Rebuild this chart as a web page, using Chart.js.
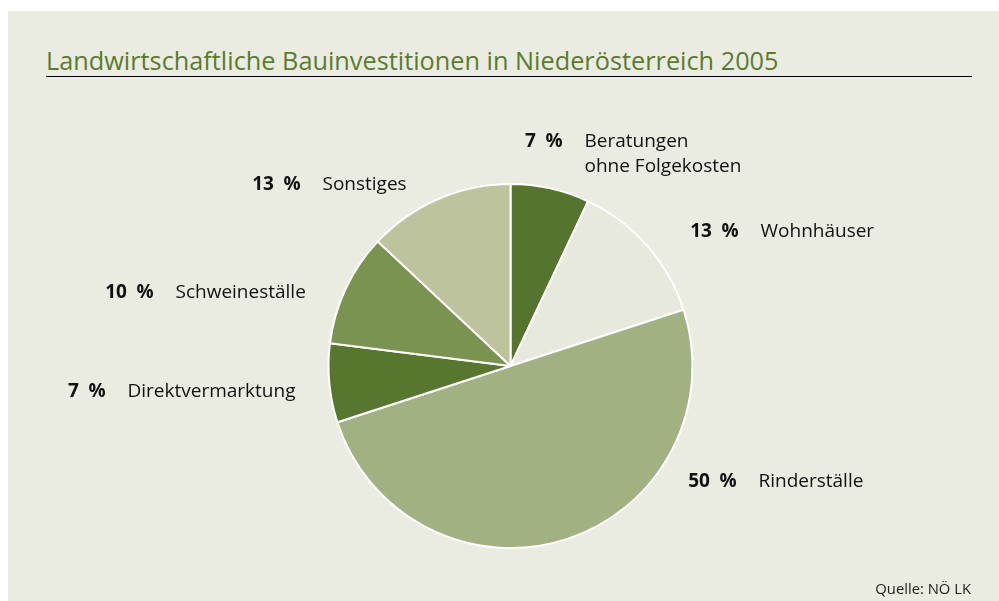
<!DOCTYPE html>
<html lang="de">
<head>
<meta charset="utf-8">
<title>Landwirtschaftliche Bauinvestitionen in Niederösterreich 2005</title>
<script src="https://cdn.jsdelivr.net/npm/chart.js@4.4.1/dist/chart.umd.min.js"></script>
<style>
  html, body { margin: 0; padding: 0; background: #fff; }
  #panel { position: absolute; left: 8px; top: 11px; width: 991px; height: 590px; background: #ebece1; }
  #title { position: absolute; left: 46px; top: 48px; font: 25.3px/25px "Open Sans", sans-serif; color: #5b7b2e; white-space: nowrap; }
  #rule { position: absolute; left: 46px; top: 76px; width: 926px; border-top: 1px solid #000; }
  #source { position: absolute; right: 28px; top: 581px; font: 14.8px/14.8px "Open Sans", sans-serif; color: #222; white-space: nowrap; }
  #chart { position: absolute; left: 0; top: 0; }
</style>
</head>
<body>
<div id="panel"></div>
<div id="title">Landwirtschaftliche Bauinvestitionen in Niederösterreich 2005</div>
<div id="rule"></div>
<canvas id="chart" width="999" height="601"></canvas>
<div id="source">Quelle: NÖ LK</div>
<script>
// data, clockwise from 12 o'clock
const categories = ["Beratungen\nohne Folgekosten", "Wohnhäuser", "Rinderställe", "Direktvermarktung", "Schweineställe", "Sonstiges"];
const shares = [7, 13, 50, 7, 10, 13];

// styles
const sliceColors = ["#55752e", "#e6e9db", "#a1b182", "#57772f", "#7a9350", "#bcc39d"];
// label anchor (right edge of the percent, baseline) relative to pie centre
const labelOffsets = [[52, -219], [228, -129], [226, 121], [-405, 31], [-357, -68], [-210, -176]];
const labelGap = 22;
const lineStep = 25;

const sliceLabels = {
  id: "sliceLabels",
  afterDatasetsDraw(chart) {
    const ctx = chart.ctx;
    const arcs = chart.getDatasetMeta(0).data;
    const cx = arcs[0].x, cy = arcs[0].y;
    ctx.save();
    ctx.fillStyle = "#111";
    ctx.textBaseline = "alphabetic";
    shares.forEach((v, i) => {
      const x = cx + labelOffsets[i][0];
      const y = cy + labelOffsets[i][1];
      ctx.font = "bold 19px 'Open Sans', sans-serif";
      ctx.textAlign = "right";
      ctx.fillText(v + "\u2002%", x, y);
      ctx.font = "19px 'Open Sans', sans-serif";
      ctx.textAlign = "left";
      categories[i].split("\n").forEach((line, k) => {
        ctx.fillText(line, x + labelGap, y + k * lineStep);
      });
    });
    ctx.restore();
  }
};

new Chart(document.getElementById("chart").getContext("2d"), {
  type: "pie",
  data: {
    labels: categories,
    datasets: [{
      data: shares,
      backgroundColor: sliceColors,
      borderColor: "#ffffff",
      borderWidth: 2
    }]
  },
  options: {
    responsive: false,
    animation: false,
    layout: { padding: { left: 327.5, right: 305.5, top: 183, bottom: 52 } },
    plugins: {
      legend: { display: false },
      tooltip: { enabled: false }
    }
  },
  plugins: [sliceLabels]
});
</script>
</body>
</html>
